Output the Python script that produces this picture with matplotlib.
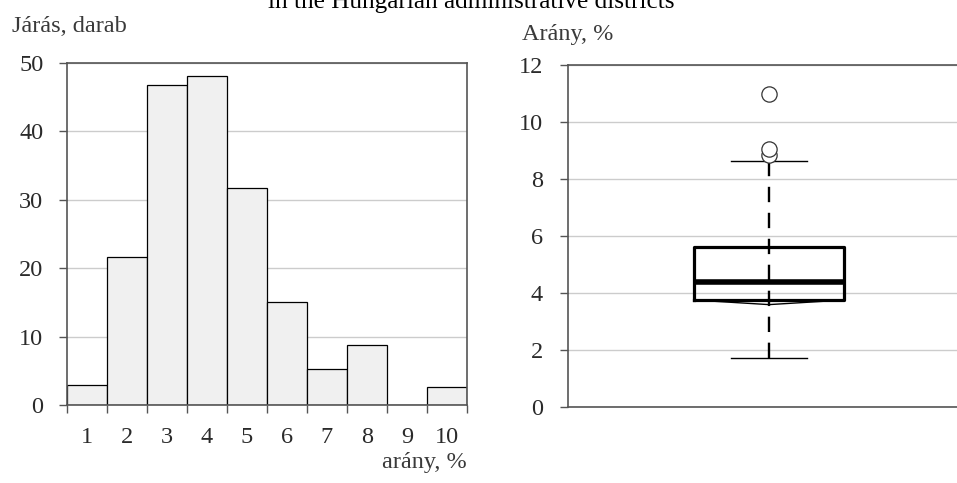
import matplotlib
matplotlib.use("Agg")
import matplotlib.pyplot as plt

plt.rcParams['font.family'] = ['Liberation Serif', 'DejaVu Serif']

# histogram: number of districts per share bin
bin_labels = [1, 2, 3, 4, 5, 6, 7, 8, 9, 10]
counts = [2.9, 21.7, 46.8, 48.1, 31.7, 15.0, 5.2, 8.7, 0.0, 2.6]

# boxplot stats (share, %)
box_whislo = 1.74
box_q1 = 3.76
box_med = 4.39
box_q3 = 5.61
box_whishi = 8.64
box_fliers = [8.85, 9.07, 10.98]
box_notch_lo = 3.60

title = "in the Hungarian administrative districts"
ylab_left = "Járás, darab"
xlab_left = "arány, %"
ylab_right = "Arány, %"

W, H = 957, 483
spine_col = "#555555"
grid_col = "#cccccc"
text_col = "#2a2a2a"
fs = 17.5

fig = plt.figure(figsize=(W / 100, H / 100), dpi=100)

# ---- left: histogram
ax1 = fig.add_axes([67 / W, 78 / H, 400 / W, 342 / H])
ax1.bar(bin_labels, counts, width=1.0, facecolor="#f0f0f0", edgecolor="black",
        linewidth=0.9, zorder=2)
ax1.set_xlim(0.5, 10.5)
ax1.set_ylim(0, 50)
ax1.set_yticks(range(0, 51, 10))
ax1.yaxis.grid(True, color=grid_col, linewidth=1.0, zorder=0)
ax1.set_axisbelow(True)
edges = [b - 0.5 for b in bin_labels] + [bin_labels[-1] + 0.5]
ax1.set_xticks(edges)
ax1.set_xticklabels([])
ax1.set_xticks(bin_labels, minor=True)
ax1.set_xticklabels([str(b) for b in bin_labels], minor=True)
ax1.tick_params(axis="x", which="minor", length=0, pad=16, labelsize=fs, labelcolor=text_col)
ax1.tick_params(axis="x", which="major", length=6, width=1.0, color=spine_col)
ax1.tick_params(axis="y", length=6, width=1.0, color=spine_col, pad=11,
                labelsize=fs, labelcolor=text_col)
for s in ax1.spines.values():
    s.set_color(spine_col)
    s.set_linewidth(1.2)

# ---- right: boxplot
ax2 = fig.add_axes([568 / W, 75.7 / H, 402 / W, 342.3 / H])
pos = 1.0
bw = 0.373
cw = 0.187
ax2.vlines(pos, box_whislo, box_whishi, colors="black", linewidth=1.7,
           linestyles=(0, (6.5, 4.5)), zorder=3)
stats = [dict(whislo=box_whislo, q1=box_q1, med=box_med, q3=box_q3,
              whishi=box_whishi, fliers=box_fliers)]
ax2.bxp(stats, positions=[pos], widths=bw, capwidths=cw, showfliers=True,
        boxprops=dict(color="black", linewidth=2.3),
        medianprops=dict(color="black", linewidth=4.0),
        whiskerprops=dict(linewidth=0),
        capprops=dict(color="black", linewidth=1.0),
        flierprops=dict(marker="o", markersize=11, markerfacecolor="white",
                        markeredgecolor="#333333", markeredgewidth=0.9),
        manage_ticks=False, zorder=4)
ax2.plot([pos - bw / 2, pos, pos + bw / 2], [box_q1, box_notch_lo, box_q1],
         color="black", linewidth=1.0, zorder=4)
ax2.set_xlim(0.5, 1.5)
ax2.set_ylim(0, 12)
ax2.set_yticks(range(0, 13, 2))
ax2.set_xticks([])
ax2.yaxis.grid(True, color=grid_col, linewidth=1.0, zorder=0)
ax2.set_axisbelow(True)
ax2.tick_params(axis="y", length=6, width=1.0, color=spine_col, pad=12,
                labelsize=fs, labelcolor=text_col)
for s in ax2.spines.values():
    s.set_color(spine_col)
    s.set_linewidth(1.2)
ax2.spines["right"].set_visible(False)

# ---- texts
fig.text(471 / W, 1 - 8 / H, title, ha="center", va="baseline", fontsize=18.2, color="black")
fig.text(12 / W, 1 - 32 / H, ylab_left, ha="left", va="baseline", fontsize=fs, color="#3a3a3a")
fig.text(467 / W, 1 - 468 / H, xlab_left, ha="right", va="baseline", fontsize=fs, color="#3a3a3a")
fig.text(522 / W, 1 - 40 / H, ylab_right, ha="left", va="baseline", fontsize=fs, color="#3a3a3a")

fig.savefig("out.png", dpi=100)
